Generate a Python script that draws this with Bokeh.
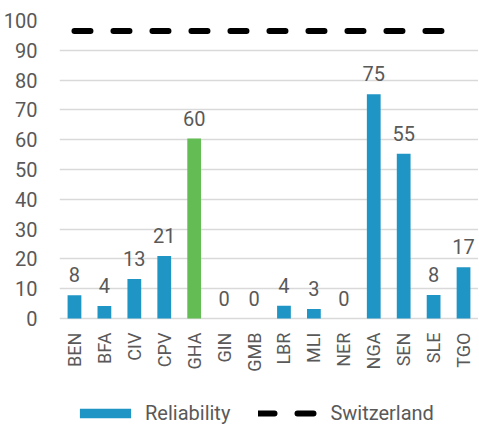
import math
from bokeh.plotting import figure
from bokeh.models import ColumnDataSource, Legend, LegendItem, FixedTicker, LabelSet
from bokeh.core.properties import value
from bokeh.embed import file_html
from bokeh.resources import INLINE

countries = ["BEN", "BFA", "CIV", "CPV", "GHA", "GIN", "GMB", "LBR", "MLI", "NER", "NGA", "SEN", "SLE", "TGO"]
reliability = [7.8, 4.2, 13.3, 21.0, 60.4, 0, 0, 4.3, 3.2, 0, 75.3, 55.3, 7.9, 17.2]
labels = ["8", "4", "13", "21", "60", "0", "0", "4", "3", "0", "75", "55", "8", "17"]
switzerland = [96.5] * len(countries)
y_ticks = [0, 10, 20, 30, 40, 50, 60, 70, 80, 90, 100]

BLUE = "#1F95C6"
GREEN = "#64BC55"
TEXT = "#595959"
FONT = "Roboto"

colors = [GREEN if c == "GHA" else BLUE for c in countries]
src = ColumnDataSource(dict(x=countries, y=reliability, lab=labels, color=colors,
                            sw=switzerland, base=[0] * len(countries)))

# frame extends below zero so the category labels and legend sit inside it
p = figure(x_range=countries, y_range=(-36.2, 100), frame_width=419, frame_height=406,
           output_backend="svg", toolbar_location=None,
           min_border_left=52, min_border_right=0, min_border_top=20, min_border_bottom=0)
p.outline_line_color = None

bars = p.vbar(x="x", top="y", width=0.46, fill_color="color", line_color=None, source=src)
sw = p.line(x="x", y="sw", line_color="black", line_width=6, line_dash="16 23",
            line_cap="round", source=src)

lbl = LabelSet(x="x", y="y", text="lab", source=src, text_align="center",
               text_baseline="bottom", y_offset=13, text_font=value(FONT),
               text_font_size="20px", text_color=TEXT)
p.add_layout(lbl)

cat = LabelSet(x="x", y="base", text="x", source=src, angle=math.pi / 2,
               text_align="right", text_baseline="middle", y_offset=-14,
               text_font=value(FONT), text_font_size="18px", text_color=TEXT)
p.add_layout(cat)

p.xaxis.visible = False
p.xgrid.grid_line_color = None
p.ygrid.grid_line_color = "#D9D9D9"
p.ygrid.grid_line_width = 1.5
p.yaxis.ticker = FixedTicker(ticks=y_ticks)
p.yaxis.axis_line_color = None
p.yaxis.major_tick_line_color = None
p.yaxis.minor_tick_line_color = None
p.yaxis.major_label_text_font = FONT
p.yaxis.major_label_text_color = TEXT
p.yaxis.major_label_text_font_size = "20px"
p.yaxis.major_label_standoff = 16

legend = Legend(items=[LegendItem(label="Reliability", renderers=[bars]),
                       LegendItem(label="Switzerland", renderers=[sw])],
                orientation="horizontal", location=(14, 1),
                label_text_font=FONT, label_text_font_size="20px",
                label_text_color=TEXT, glyph_width=64, glyph_height=12,
                spacing=28, label_standoff=8, border_line_color=None,
                background_fill_alpha=0, padding=2, margin=0)
p.add_layout(legend, "center")

open("out.html", "w").write(file_html(p, INLINE))
